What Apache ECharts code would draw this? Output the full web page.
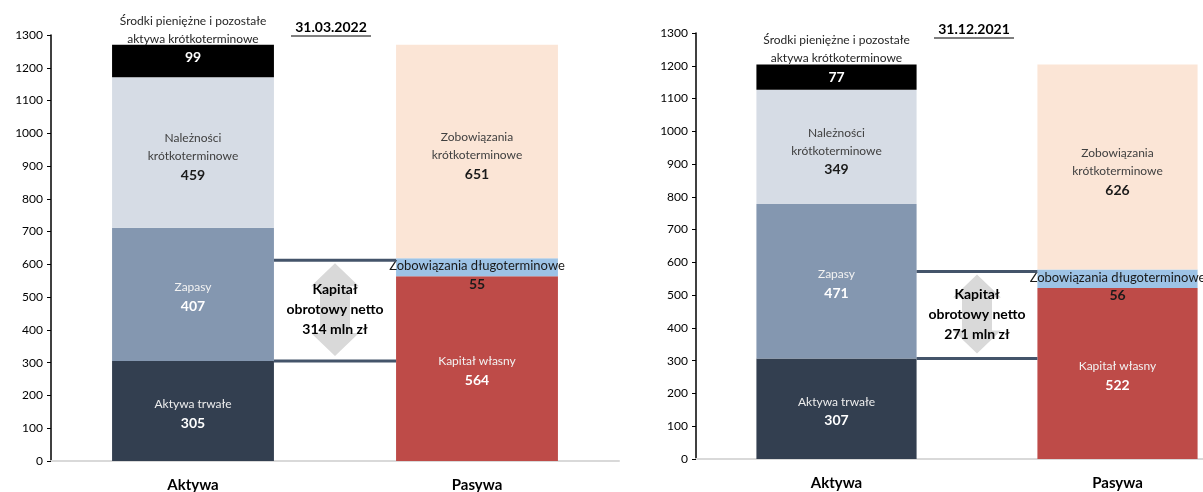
<!DOCTYPE html>
<html><head><meta charset="utf-8">
<script src="https://cdn.jsdelivr.net/npm/echarts/dist/echarts.min.js"></script>
<style>html,body{margin:0;padding:0;background:#fff}#c{width:1203px;height:492px}</style>
</head><body><div id="c"></div>
<script>
const categories = ['Aktywa', 'Pasywa'];
const titles = ['31.03.2022', '31.12.2021'];
const yMin = 0, yMax = 1300, yStep = 100;
const assetNames = ['Aktywa trwałe', 'Zapasy', 'Należności\nkrótkoterminowe', 'Środki pieniężne i pozostałe\naktywa krótkoterminowe'];
const assets2022 = [305, 407, 459, 99];
const assets2021 = [307, 471, 349, 77];
const liabNames = ['Kapitał własny', 'Zobowiązania długoterminowe', 'Zobowiązania\nkrótkoterminowe'];
const liab2022 = [564, 55, 651];
const liab2021 = [522, 56, 626];
const nwc2022 = 314;
const nwc2021 = 271;

const FONT = 'Lato';
const assetColors = ['#333F50', '#8497B0', '#D6DCE5', '#000000'];
const liabColors = ['#BE4B48', '#9DC3E6', '#FBE5D6'];
const assetText = [['#EDEDED', '#FFFFFF'], ['#F2F2F2', '#FFFFFF'], ['#404040', '#1A1A1A'], ['#262626', '#FFFFFF']];
const liabText = [['#F2F2F2', '#FFFFFF'], ['#1A1A1A', '#1A1A1A'], ['#404040', '#1A1A1A']];
const BAR_W = 0.57;

function richFmt(name, value) {
  return name.split('\n').map(s => '{n|' + s + '}').join('\n') + '\n{v|' + value + '}';
}
function rich(cols, nSize) {
  return {
    n: { color: cols[0], fontSize: nSize || 12, lineHeight: 18, fontFamily: FONT },
    v: { color: cols[1], fontSize: 14, fontWeight: 'bold', lineHeight: 20, fontFamily: FONT }
  };
}
function insideOffset(name) { return [0, name.indexOf('\n') >= 0 ? 5 : 3]; }

const grids = [
  { left: 51, top: 35, width: 568, height: 426, containLabel: false, outerBoundsMode: 'none' },
  { left: 696, top: 33, width: 562, height: 426, containLabel: false, outerBoundsMode: 'none' }
];
const datasets = [
  { assets: assets2022, liabs: liab2022, nwc: nwc2022 },
  { assets: assets2021, liabs: liab2021, nwc: nwc2021 }
];

const xAxes = [], yAxes = [], series = [];
grids.forEach((g, gi) => {
  xAxes.push({
    type: 'category', gridIndex: gi, data: categories, boundaryGap: true,
    axisLine: { lineStyle: { color: '#D9D9D9', width: 2 } },
    axisTick: { show: false },
    axisLabel: { color: '#000', fontSize: 15, fontWeight: 'bold', fontFamily: FONT, margin: 17 }
  });
  yAxes.push({
    type: 'value', gridIndex: gi, min: yMin, max: yMax, interval: yStep,
    axisLine: { show: true, lineStyle: { color: '#000', width: 1.5 } },
    axisTick: { show: true, length: 4, lineStyle: { color: '#000' } },
    splitLine: { show: false },
    axisLabel: { color: '#000', fontSize: 12, fontFamily: FONT, margin: 8, formatter: v => String(v) }
  });
  const d = datasets[gi];
  const stackName = 's' + gi;
  d.assets.forEach((v, i) => {
    let label = { show: true, position: 'inside', offset: insideOffset(assetNames[i]),
      formatter: () => richFmt(assetNames[i], v), rich: rich(assetText[i]) };
    if (i === 3) {
      label = { show: true, position: 'insideTop', distance: 0, offset: [0, -33],
        formatter: () => richFmt(assetNames[i], v), rich: rich(assetText[i]) };
    }
    series.push({
      type: 'bar', xAxisIndex: gi, yAxisIndex: gi, stack: stackName, barWidth: (BAR_W * 100) + '%',
      data: [v, '-'], itemStyle: { color: assetColors[i] }, label, silent: true
    });
  });
  d.liabs.forEach((v, i) => {
    let label = { show: true, position: 'inside', offset: insideOffset(liabNames[i]),
      formatter: () => richFmt(liabNames[i], v), rich: rich(liabText[i]) };
    if (i === 1) {
      label = { show: true, position: 'insideTop', distance: 0, offset: [0, 0],
        formatter: () => '{n|' + liabNames[i] + '}\n{v|' + v + '}',
        rich: { n: { color: '#1A1A1A', fontSize: 13, lineHeight: 16, fontFamily: FONT },
                v: { color: '#1A1A1A', fontSize: 14, fontWeight: 'bold', lineHeight: 20, fontFamily: FONT } } };
    }
    series.push({
      type: 'bar', xAxisIndex: gi, yAxisIndex: gi, stack: stackName, barWidth: (BAR_W * 100) + '%',
      data: ['-', v], itemStyle: { color: liabColors[i] }, label, silent: true
    });
  });
  series.push({
    type: 'custom', xAxisIndex: gi, yAxisIndex: gi, silent: true, z: 5,
    data: [[0, d.assets[0], d.assets[0] + d.nwc, d.nwc]],
    encode: { x: 0, y: [1, 2] },
    renderItem: function (params, api) {
      const lo = api.value(1), hi = api.value(2), nwc = api.value(3);
      const pA = api.coord([0, lo]), pB = api.coord([1, lo]), pH = api.coord([0, hi]);
      const band = pB[0] - pA[0];
      const bw = band * BAR_W;
      const x1 = pA[0] + bw / 2, x2 = pB[0] - bw / 2;
      const yLo = pA[1], yHi = pH[1];
      const cx = (pA[0] + pB[0]) / 2;
      const t = yHi + 5, b = yLo - 5, hh = 23, hw = 24, sw = 15;
      const pts = [[cx, t], [cx + hw, t + hh], [cx + sw, t + hh], [cx + sw, b - hh], [cx + hw, b - hh], [cx, b],
                   [cx - hw, b - hh], [cx - sw, b - hh], [cx - sw, t + hh], [cx - hw, t + hh]];
      return { type: 'group', children: [
        { type: 'polygon', shape: { points: pts }, style: { fill: '#D9D9D9' } },
        { type: 'line', shape: { x1: x1, y1: yHi + 2, x2: x2, y2: yHi + 2 }, style: { stroke: '#44546A', lineWidth: 3 } },
        { type: 'line', shape: { x1: x1, y1: yLo, x2: x2, y2: yLo }, style: { stroke: '#44546A', lineWidth: 3 } },
        { type: 'text', x: cx, y: (yLo + yHi) / 2, style: {
            text: 'Kapitał\nobrotowy netto\n' + nwc + ' mln zł', fill: '#000', fontSize: 14, fontWeight: 'bold',
            fontFamily: FONT, lineHeight: 20, align: 'center', verticalAlign: 'middle' } }
      ] };
    }
  });
});

const titlePos = [[331, 27], [974, 29]];
const graphic = [];
titles.forEach((t, i) => {
  graphic.push({ type: 'text', x: titlePos[i][0], y: titlePos[i][1], style: {
    text: t, fill: '#000', fontSize: 14, fontWeight: 'bold', fontFamily: FONT, align: 'center', verticalAlign: 'middle' } });
  graphic.push({ type: 'line', shape: { x1: titlePos[i][0] - 40, y1: titlePos[i][1] + 9, x2: titlePos[i][0] + 40, y2: titlePos[i][1] + 9 },
    style: { stroke: '#000', lineWidth: 1.2 } });
});

const chart = echarts.init(document.getElementById('c'), null, { renderer: 'canvas' });
chart.setOption({
  animation: false,
  textStyle: { fontFamily: FONT },
  grid: grids,
  xAxis: xAxes,
  yAxis: yAxes,
  series: series,
  graphic: graphic
});
</script></body></html>
